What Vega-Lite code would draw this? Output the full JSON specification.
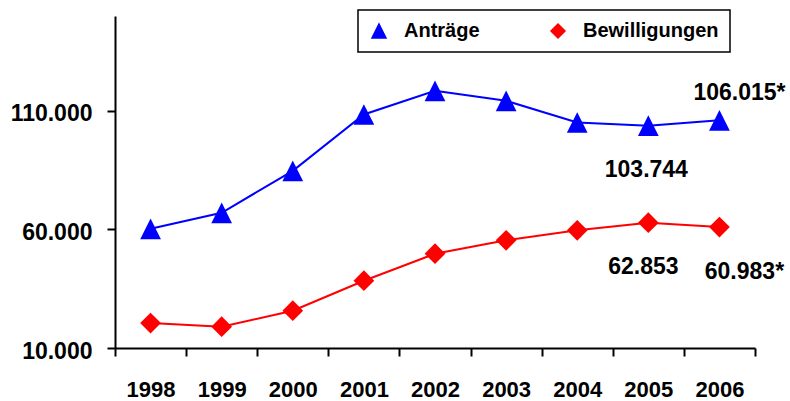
{
  "$schema": "https://vega.github.io/schema/vega-lite/v6.json",
  "autosize": "none",
  "width": 640,
  "height": 332,
  "padding": {"left": 115, "top": 16, "right": 35, "bottom": 53},
  "background": "white",
  "config": {
    "view": {"stroke": null},
    "font": "Liberation Sans",
    "locale": {"number": {"decimal": ",", "thousands": ".", "grouping": [3], "currency": ["", " €"]}},
    "axis": {
      "grid": false,
      "domainColor": "black",
      "domainWidth": 2,
      "tickColor": "black",
      "tickWidth": 2,
      "tickSize": 8,
      "labelFont": "Liberation Sans",
      "labelFontSize": 22,
      "labelFontWeight": "bold",
      "labelColor": "black",
      "title": null
    }
  },
  "data": {
    "values": [
      {"year": "1998", "series": "Anträge", "value": 60262},
      {"year": "1999", "series": "Anträge", "value": 67009},
      {"year": "2000", "series": "Anträge", "value": 84721},
      {"year": "2001", "series": "Anträge", "value": 108463},
      {"year": "2002", "series": "Anträge", "value": 118457},
      {"year": "2003", "series": "Anträge", "value": 114240},
      {"year": "2004", "series": "Anträge", "value": 105089},
      {"year": "2005", "series": "Anträge", "value": 103744, "label": "103.744"},
      {"year": "2006", "series": "Anträge", "value": 106015, "label": "106.015*"},
      {"year": "1998", "series": "Bewilligungen", "value": 20538},
      {"year": "1999", "series": "Bewilligungen", "value": 18978},
      {"year": "2000", "series": "Bewilligungen", "value": 25725},
      {"year": "2001", "series": "Bewilligungen", "value": 38376},
      {"year": "2002", "series": "Bewilligungen", "value": 49762},
      {"year": "2003", "series": "Bewilligungen", "value": 55413},
      {"year": "2004", "series": "Bewilligungen", "value": 59630},
      {"year": "2005", "series": "Bewilligungen", "value": 62853, "label": "62.853"},
      {"year": "2006", "series": "Bewilligungen", "value": 60983, "label": "60.983*"}
    ]
  },
  "encoding": {
    "x": {
      "field": "year", "type": "ordinal",
      "scale": {"type": "band", "paddingInner": 0, "paddingOuter": 0},
      "axis": {"labelAngle": 0, "tickBand": "extent", "labelPadding": 23}
    },
    "y": {
      "field": "value", "type": "quantitative",
      "scale": {"domain": [10000, 150000], "nice": false, "zero": false},
      "axis": {"values": [10000, 60000, 110000], "format": ",d", "labelPadding": 15, "labelOffset": 3, "labelFontSize": 23}
    }
  },
  "layer": [
    {
      "mark": {"type": "line", "strokeWidth": 2},
      "encoding": {
        "color": {
          "field": "series", "type": "nominal",
          "scale": {"domain": ["Anträge", "Bewilligungen"], "range": ["#0000ff", "#ff0000"]},
          "legend": {
            "title": null,
            "orient": "none",
            "direction": "horizontal",
            "columns": 2,
            "legendX": 243,
            "legendY": -6,
            "padding": 11,
            "strokeColor": "black",
            "fillColor": "white",
            "columnPadding": 68,
            "labelFont": "Liberation Sans",
            "labelFontSize": 20,
            "labelFontWeight": "bold",
            "labelColor": "black",
            "labelOffset": 15,
            "symbolSize": 196,
            "encode": {
              "legend": {"update": {"strokeWidth": {"value": 1.5}}}
            }
          }
        }
      }
    },
    {
      "mark": {"type": "point", "filled": true, "size": 430, "opacity": 1},
      "encoding": {
        "color": {"field": "series", "type": "nominal", "legend": null},
        "shape": {
          "field": "series", "type": "nominal",
          "scale": {"domain": ["Anträge", "Bewilligungen"], "range": ["M0,-1L1,1H-1Z", "diamond"]},
          "legend": null
        }
      }
    },
    {
      "transform": [{"filter": "datum.year === '2006' && datum.series === 'Anträge'"}],
      "mark": {"type": "text", "font": "Liberation Sans", "fontSize": 23, "fontWeight": "bold", "color": "black", "baseline": "middle", "dx": 20, "dy": -27},
      "encoding": {"text": {"field": "label"}}
    },
    {
      "transform": [{"filter": "datum.year === '2005' && datum.series === 'Anträge'"}],
      "mark": {"type": "text", "font": "Liberation Sans", "fontSize": 23, "fontWeight": "bold", "color": "black", "baseline": "middle", "dx": -2, "dy": 44},
      "encoding": {"text": {"field": "label"}}
    },
    {
      "transform": [{"filter": "datum.year === '2005' && datum.series === 'Bewilligungen'"}],
      "mark": {"type": "text", "font": "Liberation Sans", "fontSize": 23, "fontWeight": "bold", "color": "black", "baseline": "middle", "dx": -5, "dy": 44},
      "encoding": {"text": {"field": "label"}}
    },
    {
      "transform": [{"filter": "datum.year === '2006' && datum.series === 'Bewilligungen'"}],
      "mark": {"type": "text", "font": "Liberation Sans", "fontSize": 23, "fontWeight": "bold", "color": "black", "baseline": "middle", "dx": 25, "dy": 45},
      "encoding": {"text": {"field": "label"}}
    }
  ]
}
